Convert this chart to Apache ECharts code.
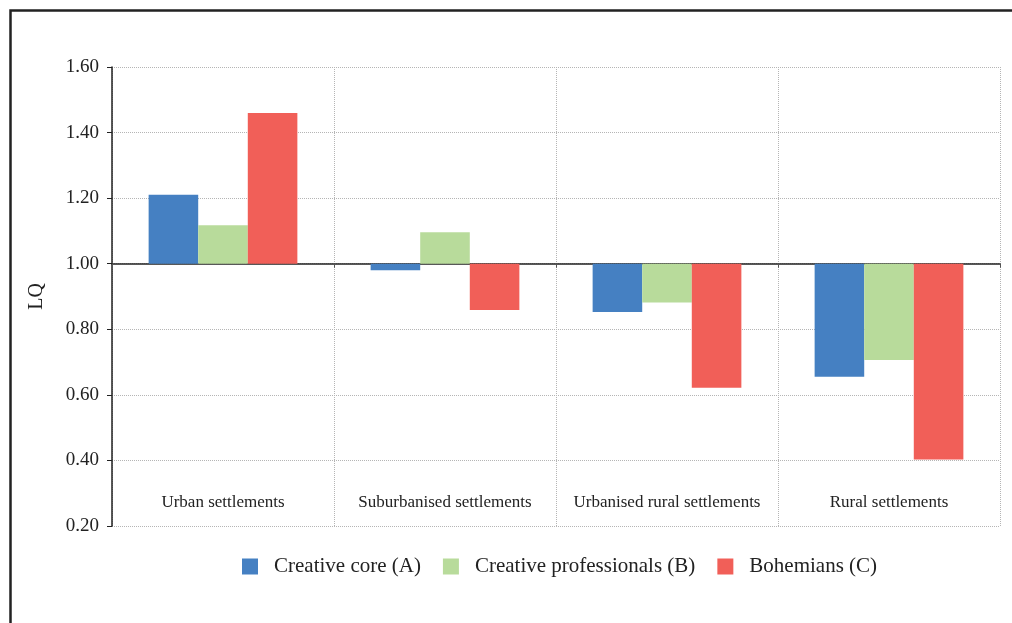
<!DOCTYPE html>
<html>
<head>
<meta charset="utf-8">
<script src="https://cdn.jsdelivr.net/npm/echarts@6/dist/echarts.min.js"></script>
<style>html,body{margin:0;padding:0;background:#fff;}#c{width:1012px;height:623px;}</style>
</head>
<body>
<div id="c"></div>
<script>
const categories = ['Urban settlements', 'Suburbanised settlements', 'Urbanised rural settlements', 'Rural settlements'];
const seriesNames = ['Creative core (A)', 'Creative professionals (B)', 'Bohemians (C)'];
const creativeCore = [1.21, 0.98, 0.853, 0.655];
const creativeProfessionals = [1.117, 1.096, 0.882, 0.706];
const bohemians = [1.46, 0.859, 0.622, 0.403];
const yTicks = [0.20, 0.40, 0.60, 0.80, 1.00, 1.20, 1.40, 1.60];
const baseline = 1.0;

const colors = ['#4580C2', '#B8DB9B', '#F15F58'];
const font = '"Liberation Serif", "DejaVu Serif", serif';
const toAxis = v => +(v - baseline).toFixed(4);

const chart = echarts.init(document.getElementById('c'), null, {renderer: 'canvas'});
const values = [creativeCore, creativeProfessionals, bohemians];
chart.setOption({
  animation: false,
  backgroundColor: '#fff',
  graphic: [{
    type: 'rect', silent: true,
    shape: {x: 10.5, y: 10.5, width: 1200, height: 800},
    style: {fill: 'none', stroke: '#222', lineWidth: 2.5}
  }],
  grid: {left: 112, right: 12, top: 67, bottom: 97, containLabel: false},
  legend: {
    left: 237, top: 551,
    itemWidth: 16, itemHeight: 16, itemGap: 22,
    icon: 'rect',
    textStyle: {fontFamily: font, fontSize: 21, color: '#222', padding: [0, 0, 0, 11]},
    data: seriesNames
  },
  xAxis: [{
    type: 'category', data: categories,
    axisLine: {onZero: true, lineStyle: {color: '#222', width: 1.5}},
    axisTick: {show: true, length: 4, lineStyle: {color: '#555'}},
    axisLabel: {show: false},
    splitLine: {show: true, lineStyle: {color: '#b5b5b5', type: 'dotted', width: 1}}
  }, {
    type: 'category', data: categories, position: 'bottom',
    axisLine: {show: false}, axisTick: {show: false}, splitLine: {show: false},
    axisLabel: {interval: 0, margin: -32, fontFamily: font, fontSize: 17, color: '#222'}
  }],
  yAxis: {
    type: 'value',
    min: toAxis(yTicks[0]), max: toAxis(yTicks[yTicks.length - 1]), interval: 0.2,
    name: 'LQ', nameLocation: 'middle', nameGap: 65, nameRotate: 90,
    nameTextStyle: {fontFamily: font, fontSize: 20, color: '#222'},
    axisLine: {show: true, lineStyle: {color: '#222', width: 1.5}},
    axisTick: {show: true, length: 5, lineStyle: {color: '#222'}},
    axisLabel: {fontFamily: font, fontSize: 19, color: '#222', margin: 13,
      formatter: v => (v + baseline).toFixed(2)},
    splitLine: {show: true, lineStyle: {color: '#b5b5b5', type: 'dotted', width: 1}}
  },
  series: seriesNames.map((n, i) => ({
    name: n, type: 'bar', xAxisIndex: 0,
    barGap: '0%', barCategoryGap: '33%',
    itemStyle: {color: colors[i]},
    data: values[i].map(toAxis)
  }))
});
</script>
</body>
</html>
